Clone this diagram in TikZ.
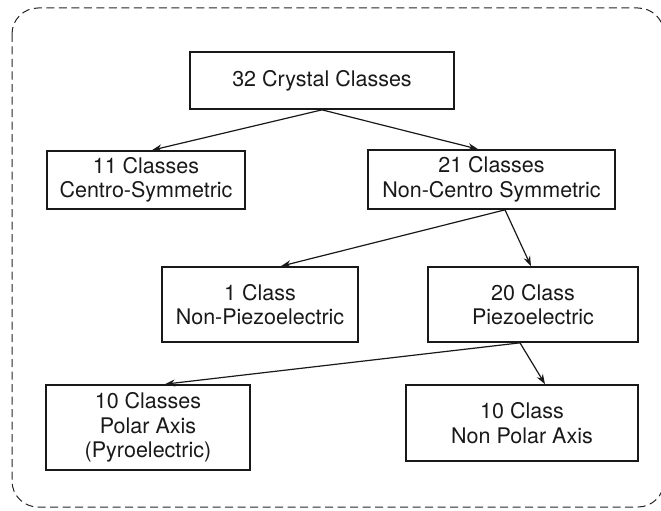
\documentclass[tikz,border=0pt]{standalone}
\usepackage{fontspec}
\setmainfont{TeX Gyre Heros}
\usetikzlibrary{arrows.meta}
\begin{document}
\begin{tikzpicture}[x=1pt,y=-1pt,
  classbox/.style={draw=black!90, line width=1.7pt, inner sep=0pt, align=center,
    text=black!90, font=\fontsize{21.5}{24.5}\selectfont},
  link/.style={draw=black!90, line width=1.2pt, -{Stealth[length=10pt,width=7pt]}},
  frame/.style={draw=black!85, line width=1pt, dash pattern=on 8pt off 4.5pt, rounded corners=26pt}]
\useasboundingbox (0,0) rectangle (661,511);
\draw[frame] (12,8) rectangle (664,507);

\node[classbox, minimum width=264pt, minimum height=57pt] (top) at (322,80.5) {32 Crystal Classes};
\node[classbox, minimum width=198pt, minimum height=58pt] (c11) at (146,180) {11 Classes\\Centro-Symmetric};
\node[classbox, minimum width=247pt, minimum height=59pt] (c21) at (491.5,179.5) {21 Classes\\Non-Centro Symmetric};
\node[classbox, minimum width=196pt, minimum height=75pt] (c1) at (260,304.5) {1 Class\\Non-Piezoelectric};
\node[classbox, minimum width=210pt, minimum height=75pt] (c20) at (533,304.5) {20 Class\\Piezoelectric};
\node[classbox, minimum width=204pt, minimum height=85pt] (polar) at (148,427.5) {10 Classes\\Polar Axis\\(Pyroelectric)};
\node[classbox, minimum width=232pt, minimum height=76pt] (nonpolar) at (522,423) {10 Class\\Non Polar Axis};

\draw[link] (top.south) -- ([xshift=6pt]c11.north);
\draw[link] (top.south) -- ([xshift=-13.5pt]c21.north);
\draw[link] ([xshift=13.5pt]c21.south) -- ([xshift=21pt]c1.north);
\draw[link] ([xshift=13.5pt]c21.south) -- ([xshift=-2pt]c20.north);
\draw[link] ([xshift=-13pt]c20.south) -- ([xshift=17pt]polar.north);
\draw[link] ([xshift=-13pt]c20.south) -- ([xshift=23pt]nonpolar.north);
\end{tikzpicture}
\end{document}
